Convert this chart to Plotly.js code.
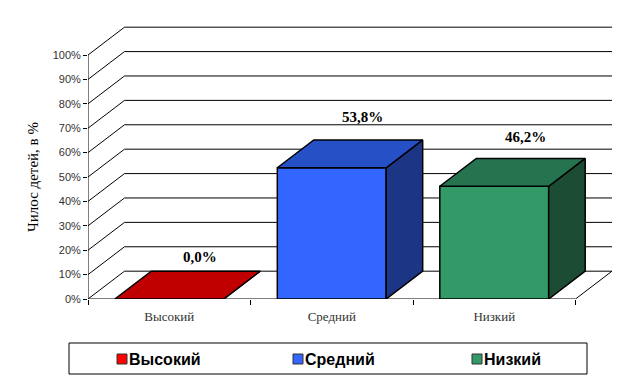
<!DOCTYPE html>
<html>
<head>
<meta charset="utf-8">
<script src="https://cdn.plot.ly/plotly-3.0.1.min.js"></script>
<style>html,body{margin:0;padding:0;background:#fff;}#chart{width:625px;height:386px;}</style>
</head>
<body>
<div id="chart"></div>
<script>
// ---- data ----
const categories = ['Высокий', 'Средний', 'Низкий'];
const values = [0.0, 53.8, 46.2];
const valueLabels = ['0,0%', '53,8%', '46,2%'];
const yTickVals = [0, 10, 20, 30, 40, 50, 60, 70, 80, 90, 100];
const yTickText = ['0%', '10%', '20%', '30%', '40%', '50%', '60%', '70%', '80%', '90%', '100%'];
const yTitle = 'Чилос детей, в %';

// ---- styles ----
const frontColors = ['#FF0000', '#3366FF', '#339966'];
const topColors = ['#C00000', '#2650C6', '#267350'];
const sideColors = ['#900000', '#1C3584', '#1C4D34'];
const BAR_W = 0.67;      // bar width in category units
const DX = 0.2246;       // depth offset, category units
const DY = 11.4;         // depth offset, percent units
const serif = 'Liberation Serif, Times New Roman, serif';
const sans = 'Liberation Sans, Arial, sans-serif';

// ---- layout geometry (pixels) ----
const W = 625, H = 386;
const M = {l: 88, r: 13, t: 20, b: 87};
const PW = W - M.l - M.r, PH = H - M.t - M.b;
const px2x = px => (px - M.l) / PW;
const px2y = py => (H - M.b - py) / PH;
const legendBox = {left: 69, right: 587, top: 343, bottom: 374};
const legendMarkerLeft = [117, 293, 472];
const legendMarkerSize = 10;

const nCat = categories.length;
const traces = [];
const shapes = [];

// back wall / left wall gridlines (axis decoration)
yTickVals.forEach(v => {
  shapes.push({type: 'path', xref: 'x', yref: 'y', layer: 'below',
    path: `M0,${v} L${DX},${v + DY} L${nCat + DX},${v + DY}`,
    line: {color: '#000', width: 1}});
});
shapes.push({type: 'path', xref: 'x', yref: 'y', layer: 'below',
  path: `M0,0 L0,${yTickVals[yTickVals.length - 1]}`, line: {color: '#000', width: 1}});
shapes.push({type: 'path', xref: 'x', yref: 'y', layer: 'below',
  path: `M0,0 L${nCat},0`, line: {color: '#000', width: 1}});
shapes.push({type: 'path', xref: 'x', yref: 'y', layer: 'below',
  path: `M${nCat},0 L${nCat + DX},${DY}`, line: {color: '#000', width: 1}});

// front faces (bars)
categories.forEach((c, i) => {
  traces.push({type: 'bar', name: c, x: [i + 0.5], y: [values[i]], width: [BAR_W],
    marker: {color: frontColors[i], line: {color: '#000', width: 1.5}},
    showlegend: false, hoverinfo: 'skip'});
});
// top and side faces
categories.forEach((c, i) => {
  const v = values[i];
  const xl = i + 0.5 - BAR_W / 2, xr = i + 0.5 + BAR_W / 2;
  traces.push({type: 'scatter', mode: 'lines', showlegend: false, hoverinfo: 'skip',
    x: [xr, xr + DX, xr + DX, xr, xr], y: [0, DY, v + DY, v, 0],
    fill: 'toself', fillcolor: sideColors[i], line: {color: '#000', width: 1.5}});
  traces.push({type: 'scatter', mode: 'lines', showlegend: false, hoverinfo: 'skip',
    x: [xl, xr, xr + DX, xl + DX, xl], y: [v, v, v + DY, v + DY, v],
    fill: 'toself', fillcolor: topColors[i], line: {color: '#000', width: 1.5}});
});

// value labels
const annotations = categories.map((c, i) => ({
  x: i + 0.5 + 0.19, y: values[i] * 1.065 + 17.3, xref: 'x', yref: 'y',
  text: valueLabels[i], showarrow: false,
  font: {family: serif, size: 15, color: '#000', weight: 'bold'}
}));

// y axis title, centred on the front axis
annotations.push({x: px2x(33), y: yTickVals[yTickVals.length - 1] / 2, xref: 'paper', yref: 'y',
  text: yTitle, textangle: -90, showarrow: false, xanchor: 'center', yanchor: 'middle',
  font: {family: serif, size: 15, color: '#000'}});

// legend (box, colour keys, names)
shapes.push({type: 'rect', xref: 'paper', yref: 'paper',
  x0: px2x(legendBox.left), x1: px2x(legendBox.right),
  y0: px2y(legendBox.bottom), y1: px2y(legendBox.top),
  line: {color: '#000', width: 1}, fillcolor: 'rgba(0,0,0,0)'});
const legendMid = (legendBox.top + legendBox.bottom) / 2 + 0.5;
categories.forEach((c, i) => {
  const x0 = legendMarkerLeft[i];
  shapes.push({type: 'rect', xref: 'paper', yref: 'paper',
    x0: px2x(x0), x1: px2x(x0 + legendMarkerSize),
    y0: px2y(legendMid + legendMarkerSize / 2), y1: px2y(legendMid - legendMarkerSize / 2),
    line: {color: '#333', width: 1}, fillcolor: frontColors[i]});
  annotations.push({x: px2x(x0 + legendMarkerSize + 0.5), y: px2y(legendMid), xref: 'paper', yref: 'paper',
    xanchor: 'left', yanchor: 'middle', showarrow: false, text: c, borderpad: 0,
    font: {family: sans, size: 16, color: '#000', weight: 'bold'}});
});

const layout = {
  width: W, height: H,
  margin: {l: M.l, r: M.r, t: M.t, b: M.b, pad: 0},
  paper_bgcolor: '#fff', plot_bgcolor: '#fff',
  showlegend: false,
  barmode: 'overlay',
  xaxis: {range: [0, nCat + DX], showgrid: false, zeroline: false, showline: false,
    tickmode: 'array', tickvals: categories.map((c, i) => i + 0.5), ticktext: categories,
    ticks: '', ticklabelstandoff: 8, tickfont: {family: serif, size: 13, color: '#333'},
    minor: {tickmode: 'array', tickvals: [0, 1, 2, 3], ticks: 'outside', ticklen: 5,
      tickcolor: '#000', tickwidth: 1, showgrid: false},
    fixedrange: true},
  yaxis: {range: [0, PH / 2.44], showgrid: false, zeroline: false, showline: false,
    tickmode: 'array', tickvals: yTickVals, ticktext: yTickText,
    ticks: 'outside', ticklen: 4, tickcolor: '#000', tickwidth: 1,
    tickfont: {family: sans, size: 11, color: '#333'},
    fixedrange: true},
  shapes: shapes,
  annotations: annotations
};

Plotly.newPlot('chart', traces, layout, {displayModeBar: false, staticPlot: true});
</script>
</body>
</html>
